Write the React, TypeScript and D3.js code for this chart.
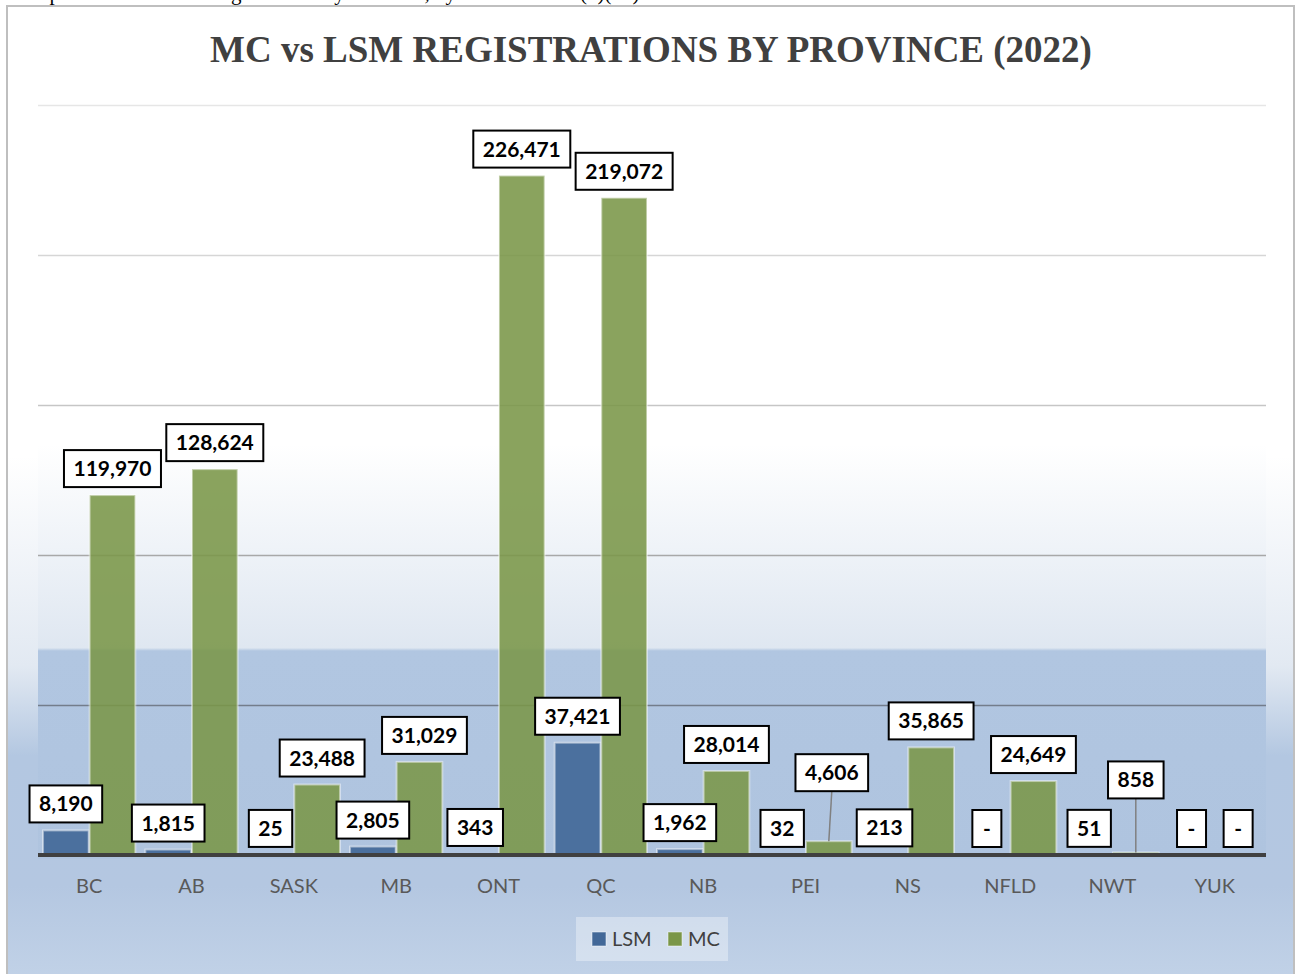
import React, { useEffect, useRef } from "react";
import * as d3 from "d3";

const provinces = ["BC", "AB", "SASK", "MB", "ONT", "QC", "NB", "PEI", "NS", "NFLD", "NWT", "YUK"];
const lsmValues = [8190, 1815, 25, 2805, 343, 37421, 1962, 32, 213, 0, 51, 0];
const mcValues = [119970, 128624, 23488, 31029, 226471, 219072, 28014, 4606, 35865, 24649, 858, 0];
const seriesNames = ["LSM", "MC"];
const gridTicks = [50000, 100000, 150000, 200000, 250000];

const chartTitle = "MC vs LSM REGISTRATIONS BY PROVINCE (2022)";
const caption = "Graph 4: MC vs LSM Registrations by Province, by Vehicle Class (*)(**)";

// a few labels were dragged off their bars in the original
const labelNudges: Record<string, [number, number]> = {
  "SASK-MC": [5, 0],
  "MB-MC": [5, 0],
  "PEI-MC": [3, -42],
  "NWT-MC": [0, -46],
};

const W = 1296;
const H = 974;
const labelFont = "Lato, 'Open Sans', sans-serif";

export default function App() {
  const ref = useRef<SVGSVGElement>(null);

  useEffect(() => {
    const svg = d3.select(ref.current);
    svg.selectAll("*").remove();

    const left = 38, right = 1266, top = 105, base = 855;

    const defs = svg.append("defs");
    const outer = defs.append("linearGradient").attr("id", "outerBg")
      .attr("x1", 0).attr("y1", 0).attr("x2", 0).attr("y2", 1);
    [["0%", "#ffffff"], ["45%", "#ffffff"], ["66%", "#e2e9f2"], ["75%", "#b3c7e1"],
     ["88%", "#b4c7e1"], ["100%", "#c5d5e9"]].forEach(([o, c]) =>
      outer.append("stop").attr("offset", o).attr("stop-color", c));
    const plotGrad = defs.append("linearGradient").attr("id", "plotBg")
      .attr("x1", 0).attr("y1", 0).attr("x2", 0).attr("y2", 1);
    [["0%", "#ffffff"], ["45%", "#ffffff"], ["72%", "#dfe7f1"], ["72.4%", "#b1c6e1"],
     ["100%", "#afc4df"]].forEach(([o, c]) =>
      plotGrad.append("stop").attr("offset", o).attr("stop-color", c));

    // caption of the page, cut off above
    svg.append("text")
      .attr("x", 18).attr("y", 0)
      .style("font-family", "'Liberation Serif', 'Times New Roman', serif")
      .style("font-size", "21px")
      .attr("fill", "#000")
      .text(caption);

    // chart frame
    svg.append("rect")
      .attr("x", 7).attr("y", 6).attr("width", 1287).attr("height", 1000)
      .attr("fill", "url(#outerBg)")
      .attr("stroke", "#bfbfbf").attr("stroke-width", 2);

    svg.append("rect")
      .attr("x", left).attr("y", top).attr("width", right - left).attr("height", base - top + 4)
      .attr("fill", "url(#plotBg)");

    svg.append("text")
      .attr("x", 651).attr("y", 62)
      .attr("text-anchor", "middle")
      .style("font-family", "'Liberation Serif', 'Times New Roman', serif")
      .style("font-weight", "bold")
      .style("font-size", "37px")
      .attr("fill", "#404040")
      .text(chartTitle);

    const x0 = d3.scaleBand().domain(provinces).range([left, right]).paddingInner(0.08).paddingOuter(0.04);
    const x1 = d3.scaleBand().domain(seriesNames).range([0, x0.bandwidth()]).padding(0.02);
    const y = d3.scaleLinear().domain([0, 250000]).range([base, top]);

    const gridColor = d3.scaleLinear<string>()
      .domain([105, 405, 555, 705])
      .range(["#e6e6e6", "#c6c6c6", "#a8a8a8", "#737d8b"]);

    svg.append("g").selectAll("line").data(gridTicks).enter().append("line")
      .attr("x1", left).attr("x2", right)
      .attr("y1", (d) => Math.round(y(d)) + 0.5).attr("y2", (d) => Math.round(y(d)) + 0.5)
      .attr("stroke", (d) => gridColor(y(d)))
      .attr("stroke-width", 1.5);

    const colors: Record<string, string> = { LSM: "#426898", MC: "#7a9648" };
    const rows = provinces.flatMap((p, i) => [
      { prov: p, series: "LSM", value: lsmValues[i] },
      { prov: p, series: "MC", value: mcValues[i] },
    ]);

    const barX = (d: any) => (x0(d.prov) as number) + (x1(d.series) as number);

    svg.append("g").selectAll("rect").data(rows.filter((d) => d.value > 0)).enter().append("rect")
      .attr("x", barX)
      .attr("y", (d) => y(d.value))
      .attr("width", x1.bandwidth())
      .attr("height", (d) => base - y(d.value))
      .attr("fill", (d) => colors[d.series])
      .attr("fill-opacity", (d) => (d.series === "MC" ? 0.88 : 0.92))
      .attr("stroke", "#ffffff").attr("stroke-opacity", 0.45).attr("stroke-width", 2);

    // axis line
    svg.append("line")
      .attr("x1", left).attr("x2", right).attr("y1", base).attr("y2", base)
      .attr("stroke", "#404040").attr("stroke-width", 4);

    // category labels
    svg.append("g").selectAll("text").data(provinces).enter().append("text")
      .attr("x", (d) => (x0(d) as number) + x0.bandwidth() / 2)
      .attr("y", 893)
      .attr("text-anchor", "middle")
      .style("font-family", labelFont)
      .style("font-size", "20px")
      .attr("fill", "#595959")
      .text((d) => d);

    // data labels
    const labels = svg.append("g");
    rows.forEach((d) => {
      const nudge = labelNudges[`${d.prov}-${d.series}`] || [0, 0];
      const cx = barX(d) + x1.bandwidth() / 2;
      const barTop = y(d.value);
      const bottom = Math.min(barTop - 8, base - 8) + nudge[1];
      const lx = cx + nudge[0];
      const g = labels.append("g");
      const rect = g.append("rect");
      const t = g.append("text")
        .attr("x", lx).attr("y", bottom - 11)
        .attr("text-anchor", "middle")
        .style("font-family", labelFont)
        .style("font-weight", "bold")
        .style("font-size", "21px")
        .attr("fill", "#000")
        .text(d.value === 0 ? "-" : d3.format(",")(d.value));
      const tw = (t.node() as SVGTextElement).getComputedTextLength();
      const bw = Math.max(tw + 19, 29);
      rect.attr("x", lx - bw / 2).attr("y", bottom - 37)
        .attr("width", bw).attr("height", 37)
        .attr("fill", "#fff").attr("stroke", "#000").attr("stroke-width", 2);
      if (nudge[1] < -20) {
        g.insert("line", "rect")
          .attr("x1", lx).attr("y1", bottom)
          .attr("x2", cx).attr("y2", Math.min(barTop, base - 2))
          .attr("stroke", "#808080").attr("stroke-width", 1.5);
      }
    });

    // legend
    const legend = svg.append("g");
    legend.append("rect")
      .attr("x", 576).attr("y", 917).attr("width", 152).attr("height", 44)
      .attr("fill", "#ffffff").attr("fill-opacity", 0.35);
    const items = [
      { name: seriesNames[0], sx: 592, tx: 612 },
      { name: seriesNames[1], sx: 668, tx: 688 },
    ];
    items.forEach((it) => {
      legend.append("rect")
        .attr("x", it.sx).attr("y", 932).attr("width", 14).attr("height", 14)
        .attr("fill", colors[it.name])
        .attr("stroke", "#ffffff").attr("stroke-opacity", 0.5).attr("stroke-width", 1);
      legend.append("text")
        .attr("x", it.tx).attr("y", 946)
        .style("font-family", labelFont)
        .style("font-size", "20px")
        .attr("fill", "#404040")
        .text(it.name);
    });
  }, []);

  return (
    <div style={{ position: "absolute", left: 0, top: 0 }}>
      <svg ref={ref} width={W} height={H} style={{ display: "block" }} />
    </div>
  );
}
